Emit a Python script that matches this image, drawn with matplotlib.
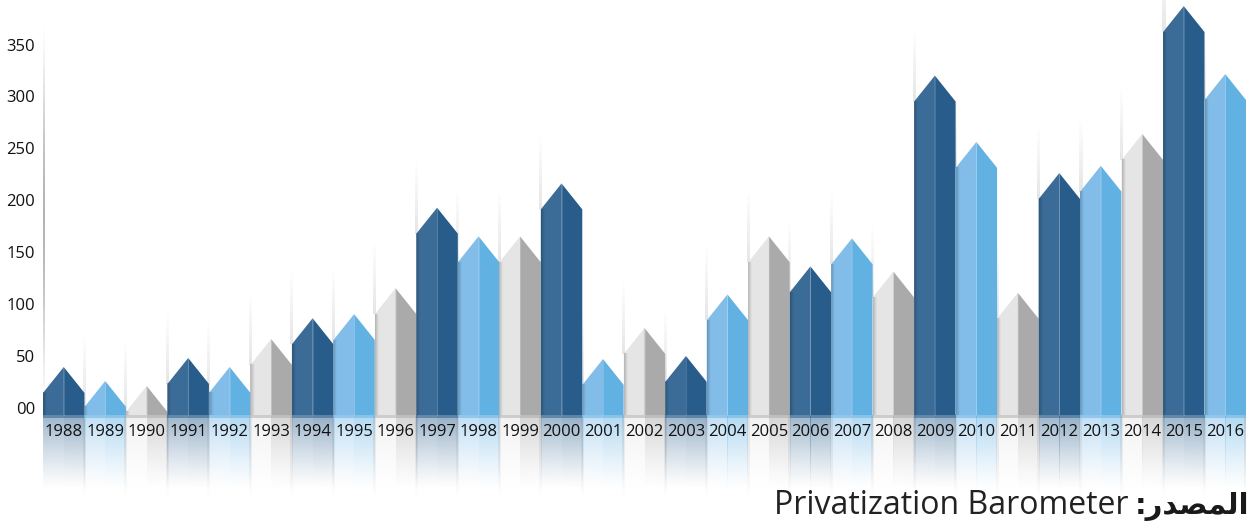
import numpy as np
import matplotlib.pyplot as plt
from matplotlib.colors import to_rgb

# privatization proceeds per year
years = [str(y) for y in range(1988, 2017)]
values = [41, 27.5, 22.7, 49.7, 41, 68, 88, 92, 117, 194.6, 167, 167, 218,
          48.7, 78.6, 51.6, 111, 167, 138, 165, 133, 322, 258, 112.6, 228,
          235, 265.7, 389, 323.5]
tick_values = [0, 50, 100, 150, 200, 250, 300, 350]
tick_labels = ['00', '50', '100', '150', '200', '250', '300', '350']
source_en = 'Privatization Barometer'
source_ar = 'المصدر:'

# (left face, right face) colours, repeating dark / light / grey
palette = [('#3b6c97', '#285c8b'),
           ('#82bde9', '#62b1e3'),
           ('#e5e5e5', '#aaaaaa')]

HEAD = 25.0      # height of the arrow tip
BASE = -5.3      # bottom of the columns
REFL = -77.6     # where the reflection has faded out
YLAB = -22.0     # year labels


def shape_arabic(s):
    # presentation forms: isolated, final, initial, medial
    forms = {'ا': ('\uFE8D', '\uFE8E', None, None),
             'ل': ('\uFEDD', '\uFEDE', '\uFEDF', '\uFEE0'),
             'م': ('\uFEE1', '\uFEE2', '\uFEE3', '\uFEE4'),
             'ص': ('\uFEB9', '\uFEBA', '\uFEBB', '\uFEBC'),
             'د': ('\uFEA9', '\uFEAA', None, None),
             'ر': ('\uFEAD', '\uFEAE', None, None)}
    out = []
    for i, ch in enumerate(s):
        if ch not in forms:
            out.append(ch)
            continue
        prev = s[i - 1] if i > 0 else ''
        nxt = s[i + 1] if i + 1 < len(s) else ''
        jp = prev in forms and forms[prev][2] is not None
        jn = forms[ch][2] is not None and nxt in forms
        f = forms[ch]
        if jp and jn:
            out.append(f[3])
        elif jp:
            out.append(f[1])
        elif jn:
            out.append(f[2])
        else:
            out.append(f[0])
    return ''.join(reversed(out))


fig = plt.figure(figsize=(12.51, 5.29), dpi=100)
ax = fig.add_axes([43 / 1251, 0, 1203 / 1251, 1])
ax.axis('off')


def vgrad(x0, x1, y0, y1, color, a_bot, a_top, z, gamma=1.0):
    t = np.linspace(0, 1, 128)[:, None]
    img = np.zeros((128, 1, 4))
    img[..., :3] = to_rgb(color)
    img[..., 3] = a_bot + (a_top - a_bot) * t ** gamma
    ax.imshow(img, extent=[x0, x1, y0, y1], origin='lower', aspect='auto',
              interpolation='bilinear', zorder=z)


def hgrad(x0, x1, y0, y1, color, a_left, a_right, z):
    t = np.linspace(0, 1, 32)[None, :]
    img = np.zeros((1, 32, 4))
    img[..., :3] = to_rgb(color)
    img[..., 3] = a_left + (a_right - a_left) * t
    ax.imshow(img, extent=[x0, x1, y0, y1], origin='lower', aspect='auto',
              interpolation='bilinear', zorder=z)


px = 29 / 1203.0  # one pixel in x data units

# long shadow line on the left edge
t = np.linspace(0, 1, 200)[:, None]
img = np.zeros((200, 1, 4))
img[..., :3] = to_rgb('#777777')
img[..., 3] = 0.55 * np.sin(np.pi * t) ** 1.5
ax.imshow(img, extent=[-1.5 * px, 1.5 * px, BASE, 375], origin='lower',
          aspect='auto', interpolation='bilinear', zorder=1)

for i, (yr, v) in enumerate(zip(years, values)):
    cl, cr = palette[i % 3]
    x0, xc, x1 = i, i + 0.5, i + 1
    sh = v - HEAD

    # faint shadow rising above the column edge
    if i > 0:
        vgrad(x0 - 1.5 * px, x0 + 1.5 * px, sh, sh + 70, '#999999', 0.25, 0.0, 1)

    ax.fill([x0, x0, xc, xc], [BASE, sh, v, BASE], color=cl, lw=0, zorder=3)
    ax.fill([xc, xc, x1, x1], [BASE, v, sh, BASE], color=cr, lw=0, zorder=3)
    ax.plot([xc, xc], [BASE, v], color='white', lw=0.6, alpha=0.18, zorder=4)
    hgrad(x0, x0 + 4 * px, BASE, sh, '#000000', 0.22, 0.0, 4)

    # reflection under the baseline
    vgrad(x0, xc, REFL, BASE, cl, 0.0, 0.5, 2, gamma=1.2)
    vgrad(xc, x1, REFL, BASE, cr, 0.0, 0.5, 2, gamma=1.2)
    ax.fill_between([x0, x1], BASE - 3, BASE, color=cr, alpha=0.5, lw=0, zorder=3)
    vgrad(x1 - 1.5 * px, x1 + 1.0 * px, REFL - 8, BASE, '#999999', 0.0, 0.3, 2)

    ax.text(xc, YLAB, yr, ha='center', va='center', fontsize=12,
            family='Open Sans', color='#111111', zorder=5)

for tv, tl in zip(tick_values, tick_labels):
    ax.text(-8 * px, tv, tl, ha='right', va='center', fontsize=12,
            family='Open Sans', color='#111111')

fig.text(1249 / 1251, 1 - 514 / 529, shape_arabic(source_ar), ha='right',
         va='baseline', fontsize=21, fontweight='bold', family=['DejaVu Sans'],
         color='#1a1a1a')
fig.text(1128 / 1251, 1 - 514 / 529, source_en, ha='right', va='baseline',
         fontsize=23, family='Open Sans', color='#222222')

ax.set_xlim(0, 29)
ax.set_ylim(-115.2, 394.9)

fig.savefig('out.png', dpi=100, facecolor='white')
